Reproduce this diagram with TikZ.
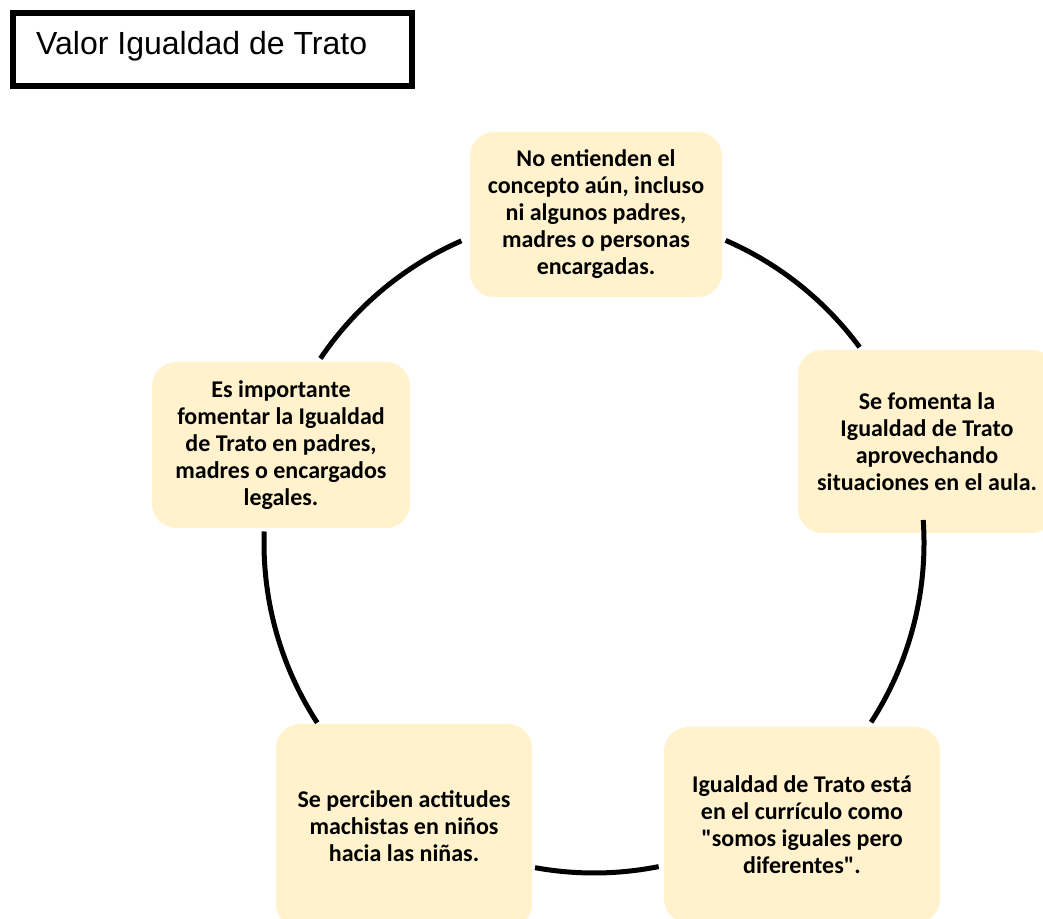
\documentclass[tikz,border=0pt]{standalone}
\usepackage{fontspec}
\setmainfont{Liberation Sans}
\newfontfamily\boxfont{Carlito}
\definecolor{cream}{RGB}{255,242,204}

\begin{document}
\begin{tikzpicture}[x=1pt, y=1pt,
  box/.style={fill=cream, rounded corners=24pt, inner sep=0pt, align=center, font=\boxfont\bfseries\fontsize{24}{27}\selectfont},
  frame/.style={draw, line width=6pt, inner sep=0pt, minimum width=399pt, minimum height=73pt},
  cyc/.style={line width=5pt}]
\clip (0,0) rectangle (1043,918);
\coordinate (ctr) at (594,375);

% title
\node[frame] (marco) at (212.5,868.5) {};
\node[anchor=base west, inner sep=0pt, font=\fontsize{32}{38}\selectfont] (titulo) at (36,863) {Valor Igualdad de Trato};

% boxes
\node[box, minimum width=252pt, minimum height=165pt] (entender) at (596,703.5) {No entienden el\\concepto aún, incluso\\ni algunos padres,\\madres o personas\\encargadas.};
\node[box, minimum width=258pt, minimum height=183pt] (aula) at (927,476.5) {Se fomenta la\\Igualdad de Trato\\aprovechando\\situaciones en el aula.};
\node[box, minimum width=276pt, minimum height=196pt] (curriculo) at (802,93) {Igualdad de Trato está\\en el currículo como\\"somos iguales pero\\diferentes".};
\node[box, minimum width=256pt, minimum height=204pt] (actitudes) at (404,92) {Se perciben actitudes\\machistas en niños\\hacia las niñas.};
\node[box, minimum width=258pt, minimum height=166pt] (padres) at (281,473) {Es importante\\fomentar la Igualdad\\de Trato en padres,\\madres o encargados\\legales.};

% arcs of the cycle
\draw[cyc] ([shift={(36.4:330pt)}]ctr) arc[start angle=36.4, end angle=66.5, radius=330pt];
\draw[cyc] ([shift={(113.7:330pt)}]ctr) arc[start angle=113.7, end angle=146, radius=330pt];
\draw[cyc] ([shift={(178:330pt)}]ctr) arc[start angle=178, end angle=213, radius=330pt];
\draw[cyc] ([shift={(-100.3:330pt)}]ctr) arc[start angle=-100.3, end angle=-78.7, radius=330pt];
\draw[cyc] ([shift={(-32.9:330pt)}]ctr) arc[start angle=-32.9, end angle=4, radius=330pt];
\end{tikzpicture}
\end{document}
